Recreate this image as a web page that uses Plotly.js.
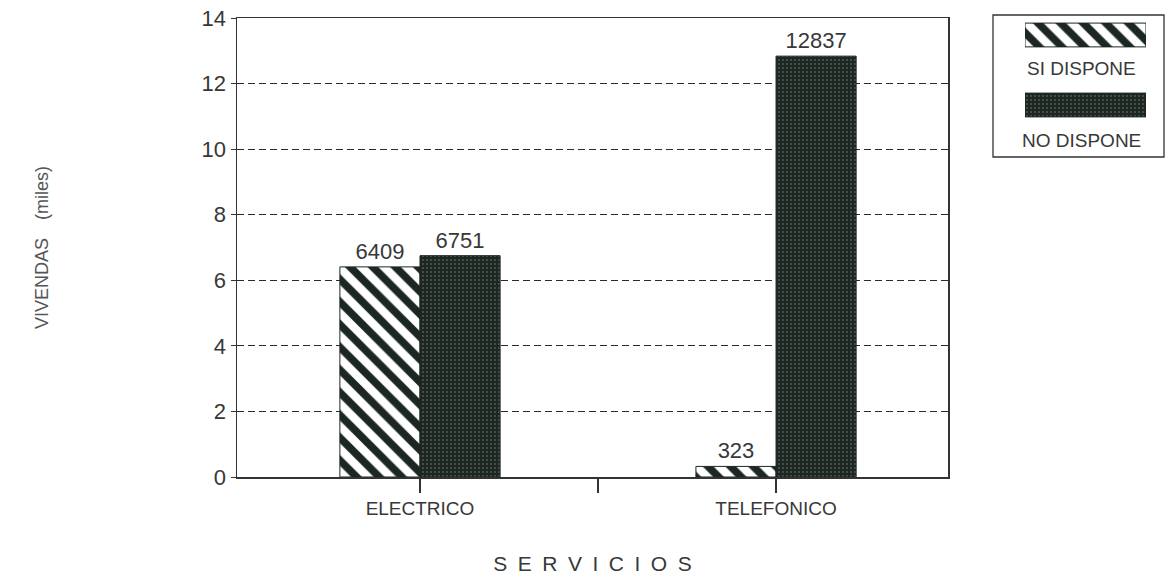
<!DOCTYPE html>
<html>
<head>
<meta charset="utf-8">
<script src="https://cdn.plot.ly/plotly-3.0.1.min.js"></script>
<style>
  html, body { margin: 0; padding: 0; background: #ffffff; }
  #chart { width: 1173px; height: 579px; }
</style>
</head>
<body>
<div id="chart"></div>
<script>
// ---- data (viviendas) ----
const categories = ['ELECTRICO', 'TELEFONICO'];
const seriesNames = ['SI DISPONE', 'NO DISPONE'];
const siDispone = [6409, 323];
const noDispone = [6751, 12837];
const yTickVals = [0, 2, 4, 6, 8, 10, 12, 14];
const xTitle = 'S\u2002E\u2002R\u2002V\u2002I\u2002C\u2002I\u2002O\u2002S';
const yTitle = 'VIVENDAS\u2002\u2002(miles)';

// ---- styling ----
const ink = '#1d2722';
const textCol = '#383838';
const hatch = { shape: '\\', fgcolor: ink, bgcolor: '#ffffff', size: 16, solidity: 0.48, fillmode: 'replace' };
const speck = { shape: '.', fgcolor: '#7d847f', bgcolor: ink, size: 4, solidity: 0.12, fillmode: 'replace' };

const xIdx = categories.map((c, i) => i);
const toMiles = v => v / 1000;

const traces = [
  {
    type: 'bar', name: seriesNames[0], x: xIdx, y: siDispone.map(toMiles),
    text: siDispone.map(String), textposition: 'outside', cliponaxis: false,
    textfont: { family: 'Liberation Sans, Arial, sans-serif', size: 22, color: textCol },
    marker: { color: '#ffffff', pattern: hatch, line: { color: ink, width: 1 } },
    showlegend: false, hoverinfo: 'skip'
  },
  {
    type: 'bar', name: seriesNames[1], x: xIdx, y: noDispone.map(toMiles),
    text: noDispone.map(String), textposition: 'outside', cliponaxis: false,
    textfont: { family: 'Liberation Sans, Arial, sans-serif', size: 22, color: textCol },
    marker: { color: ink, pattern: speck, line: { color: ink, width: 1 } },
    showlegend: false, hoverinfo: 'skip'
  },
  // legend swatches (drawn as a tiny horizontal bar chart in the legend box)
  {
    type: 'bar', orientation: 'h', x: [1], y: [seriesNames[0]], xaxis: 'x2', yaxis: 'y2',
    marker: { color: '#ffffff', pattern: hatch, line: { color: ink, width: 1 } },
    width: 0.34, showlegend: false, hoverinfo: 'skip'
  },
  {
    type: 'bar', orientation: 'h', x: [1], y: [seriesNames[1]], xaxis: 'x2', yaxis: 'y2',
    marker: { color: ink, pattern: speck, line: { color: ink, width: 1 } },
    width: 0.34, showlegend: false, hoverinfo: 'skip'
  }
];

const W = 1173, H = 579;
const mL = 237, mR = 8, mT = 10, mB = 102;
const pw = W - mL - mR, ph = H - mT - mB;
const px = x => (x - mL) / pw;
const py = y => (H - mB - y) / ph;

const layout = {
  width: W, height: H,
  margin: { l: mL, r: mR, t: mT, b: mB },
  paper_bgcolor: '#ffffff', plot_bgcolor: '#ffffff',
  font: { family: 'Liberation Sans, Arial, sans-serif', color: textCol, size: 19 },
  barmode: 'group', bargap: 0.55, bargroupgap: 0,
  showlegend: false,
  xaxis: {
    domain: [0, px(948)],
    range: [-0.514, 1.483],
    tickvals: [0, 0.5, 1],
    ticktext: [categories[0], '', categories[1]],
    ticks: 'outside', ticklen: 14, tickwidth: 1.2, tickcolor: '#333',
    tickfont: { family: 'Liberation Sans, sans-serif', size: 19, color: textCol },
    showgrid: false, zeroline: false,
    showline: true, mirror: true, linecolor: '#333', linewidth: 1.5,
    title: { text: xTitle, standoff: 38, font: { family: 'Liberation Sans, sans-serif', size: 21, color: textCol } },
    fixedrange: true
  },
  yaxis: {
    domain: [0, py(18)],
    range: [0, 14],
    tickvals: yTickVals,
    ticks: 'outside', ticklen: 5, tickcolor: '#333',
    tickfont: { family: 'Liberation Sans, Arial, sans-serif', size: 22, color: textCol },
    showgrid: true, gridcolor: '#2a2a2a', gridwidth: 1.1, griddash: '7px,4px',
    zeroline: false,
    showline: true, mirror: true, linecolor: '#333', linewidth: 1.5,
    title: { text: yTitle, standoff: 148, font: { family: 'Liberation Sans, sans-serif', size: 18, color: '#555' } },
    fixedrange: true
  },
  xaxis2: {
    domain: [px(1025), px(1146)], anchor: 'y2', range: [0, 1],
    visible: false, fixedrange: true
  },
  yaxis2: {
    domain: [py(140), 1], anchor: 'x2', type: 'category',
    categoryorder: 'array', categoryarray: [seriesNames[1], seriesNames[0]],
    range: [-0.5, 1.357], visible: false, fixedrange: true
  },
  shapes: [
    { type: 'rect', xref: 'paper', yref: 'paper', x0: px(993), x1: px(1164), y0: py(157), y1: py(15),
      line: { color: '#333', width: 1.3 }, fillcolor: 'rgba(0,0,0,0)', layer: 'below' }
  ],
  annotations: [
    { xref: 'paper', yref: 'paper', x: px(1081), y: py(68), text: seriesNames[0], showarrow: false,
      xanchor: 'center', yanchor: 'middle',
      font: { family: 'Liberation Sans, sans-serif', size: 19, color: textCol } },
    { xref: 'paper', yref: 'paper', x: px(1081), y: py(140), text: seriesNames[1], showarrow: false,
      xanchor: 'center', yanchor: 'middle',
      font: { family: 'Liberation Sans, sans-serif', size: 19, color: textCol } }
  ]
};

Plotly.newPlot('chart', traces, layout, { displayModeBar: false, staticPlot: true });
</script>
</body>
</html>
